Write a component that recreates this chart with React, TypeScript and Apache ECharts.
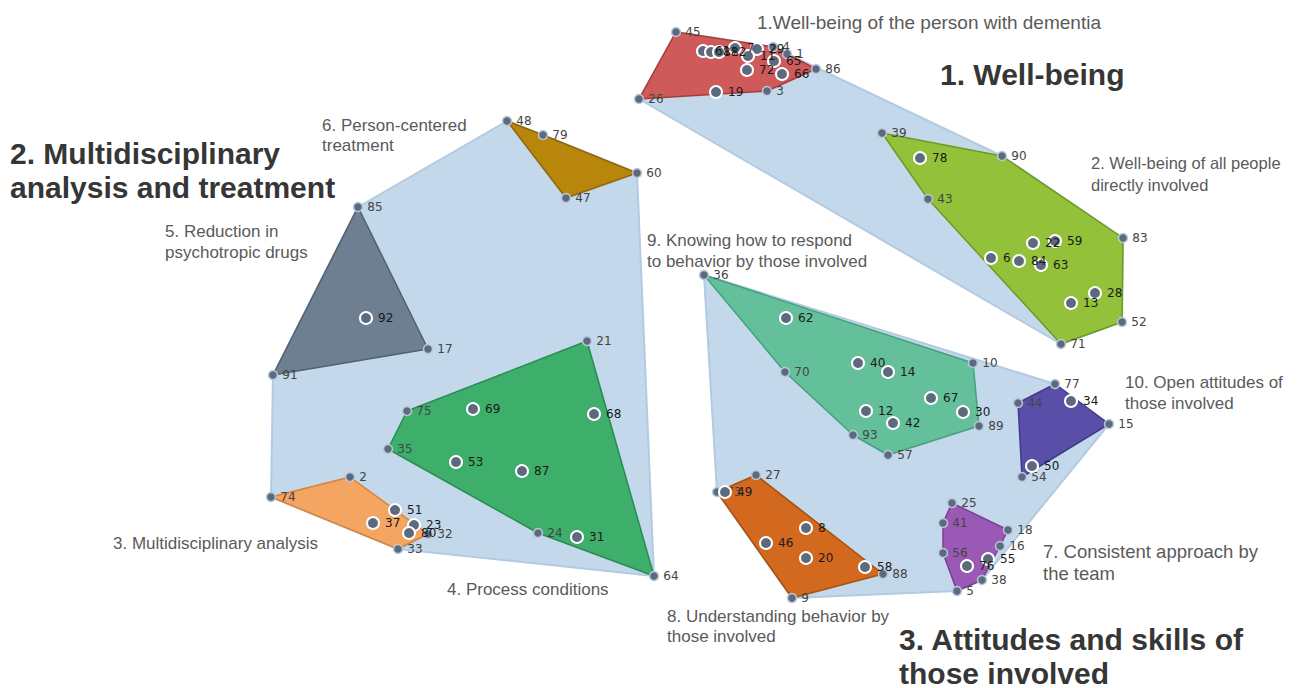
import React, { useEffect, useRef } from "react";
import * as echarts from "echarts";

// Each point: [label, x, y] (map coordinates)
const cluster1 = [
  ["45", 676, 32], ["26", 639, 99], ["19", 716, 92], ["3", 767, 91], ["86", 816, 69],
  ["66", 782, 74], ["72", 747, 70], ["65", 774, 61], ["1", 787, 54], ["4", 773, 47],
  ["29", 757, 49], ["7", 735, 48], ["11", 748, 56], ["61", 703, 51], ["81", 711, 52], ["82", 719, 52],
];
const cluster2 = [
  ["39", 882, 133], ["78", 920, 158], ["90", 1002, 156], ["43", 928, 199], ["83", 1123, 238],
  ["22", 1033, 243], ["59", 1055, 241], ["6", 991, 258], ["84", 1019, 261], ["63", 1041, 265],
  ["28", 1095, 293], ["13", 1071, 303], ["52", 1122, 322], ["71", 1061, 344],
];
const cluster3 = [
  ["2", 350, 477], ["74", 271, 497], ["51", 395, 510], ["37", 373, 523], ["23", 414, 525],
  ["80", 409, 533], ["32", 428, 534], ["33", 398, 549],
];
const cluster4 = [
  ["21", 587, 341], ["75", 407, 411], ["69", 473, 409], ["68", 594, 414], ["35", 388, 449],
  ["53", 456, 462], ["87", 522, 471], ["24", 538, 533], ["31", 577, 537], ["64", 654, 576],
];
const cluster5 = [["85", 358, 207], ["92", 366, 318], ["17", 428, 349], ["91", 273, 375]];
const cluster6 = [["48", 507, 121], ["79", 543, 135], ["60", 637, 173], ["47", 566, 198]];
const cluster7 = [
  ["25", 952, 503], ["41", 943, 523], ["18", 1008, 530], ["16", 1000, 546], ["56", 943, 553],
  ["55", 988, 559], ["76", 967, 566], ["38", 982, 580], ["5", 957, 591],
];
const cluster8 = [
  ["27", 756, 475], ["73", 717, 492], ["49", 725, 492], ["8", 806, 528], ["46", 766, 543],
  ["20", 806, 558], ["58", 865, 567], ["88", 883, 574], ["9", 792, 598],
];
const cluster9 = [
  ["36", 704, 275], ["62", 786, 318], ["70", 785, 372], ["40", 858, 363], ["14", 888, 372],
  ["10", 973, 363], ["67", 931, 398], ["30", 963, 412], ["89", 979, 426], ["12", 866, 411],
  ["42", 893, 423], ["93", 853, 435], ["57", 888, 455],
];
const cluster10 = [
  ["77", 1055, 384], ["44", 1018, 403], ["34", 1071, 401], ["15", 1109, 424], ["50", 1032, 466], ["54", 1022, 477],
];

const clusters = [cluster1, cluster2, cluster3, cluster4, cluster5, cluster6, cluster7, cluster8, cluster9, cluster10];
const groups = [[0, 1], [2, 3, 4, 5], [6, 7, 8, 9]];

// styles (kept apart from data)
const clusterFill = ["#cf5a5a", "#93c23a", "#f4a562", "#3daf6a", "#6e7f92", "#b8860b", "#9b59b6", "#d2691e", "#64c09b", "#5a4fa8"];
const clusterStroke = ["#a83c3c", "#6f9a22", "#d8823a", "#2a8c50", "#52616f", "#8f6808", "#7a3e94", "#a8500f", "#45a07c", "#42388a"];

type P = [number, number];
function hull(pts: P[]): P[] {
  const s = pts.slice().sort((a, b) => a[0] - b[0] || a[1] - b[1]);
  const cross = (o: P, a: P, b: P) => (a[0] - o[0]) * (b[1] - o[1]) - (a[1] - o[1]) * (b[0] - o[0]);
  const lower: P[] = [];
  for (const p of s) {
    while (lower.length >= 2 && cross(lower[lower.length - 2], lower[lower.length - 1], p) <= 0) lower.pop();
    lower.push(p);
  }
  const upper: P[] = [];
  for (let i = s.length - 1; i >= 0; i--) {
    const p = s[i];
    while (upper.length >= 2 && cross(upper[upper.length - 2], upper[upper.length - 1], p) <= 0) upper.pop();
    upper.push(p);
  }
  upper.pop();
  lower.pop();
  return lower.concat(upper);
}

const txt = (text: string, x: number, y: number, size = 17, lh = 21) => ({
  type: "text",
  x,
  y,
  z: 100,
  style: {
    text,
    fill: "#5a5a5a",
    font: `${size}px 'Liberation Sans', Arial, sans-serif`,
    lineHeight: lh,
    verticalAlign: "top",
    align: "left",
  },
});
const bigTxt = (text: string, x: number, y: number) => ({
  type: "text",
  x,
  y,
  z: 100,
  style: {
    text,
    fill: "#363636",
    font: "bold 30px 'Liberation Sans', Arial, sans-serif",
    lineHeight: 34,
    verticalAlign: "top",
    align: "left",
  },
});

export default function App() {
  const ref = useRef<HTMLDivElement>(null);
  useEffect(() => {
    document.body.style.margin = "0";
    const chart = echarts.init(ref.current!, null, { renderer: "svg" });

    const clusterHulls = clusters.map((c) => hull(c.map((p) => [p[1] as number, p[2] as number] as P)));
    const groupHulls = groups.map((g) => hull(g.flatMap((ci) => clusters[ci].map((p) => [p[1] as number, p[2] as number] as P))));

    const hullKeys = new Set<string>();
    clusterHulls.forEach((h) => h.forEach((p) => hullKeys.add(p[0] + "," + p[1])));

    const edgePts: any[] = [];
    const innerPts: any[] = [];
    clusters.forEach((c) =>
      c.forEach((p) => {
        const item = { name: p[0], value: [p[1], p[2]] };
        if (hullKeys.has(p[1] + "," + p[2])) edgePts.push(item);
        else innerPts.push(item);
      })
    );

    const polySeries = (hs: P[][], fills: string[], strokes: string[], z: number, lw: number) => ({
      type: "custom",
      coordinateSystem: "cartesian2d",
      clip: false,
      z,
      silent: true,
      data: hs.map((_, i) => [i]),
      renderItem: (params: any, api: any) => {
        const h = hs[params.dataIndex];
        return {
          type: "polygon",
          shape: { points: h.map((p) => api.coord(p)) },
          style: { fill: fills[params.dataIndex], stroke: strokes[params.dataIndex], lineWidth: lw, lineJoin: "round" },
        };
      },
    });

    chart.setOption({
      animation: false,
      grid: { left: 0, right: 0, top: 0, bottom: 0 },
      xAxis: { type: "value", min: 0, max: 1298, show: false },
      yAxis: { type: "value", min: 0, max: 688, inverse: true, show: false },
      series: [
        polySeries(groupHulls, ["#c3d8eb", "#c3d8eb", "#c3d8eb"], ["#b3cbe2", "#b3cbe2", "#b3cbe2"], 1, 2),
        polySeries(clusterHulls, clusterFill, clusterStroke, 2, 1.5),
        {
          type: "scatter",
          z: 3,
          symbolSize: 9,
          data: edgePts,
          itemStyle: { color: "#5d6a7e", borderColor: "#b9c9dc", borderWidth: 1.5, opacity: 1 },
          label: {
            show: true,
            position: "right",
            distance: 4,
            formatter: "{b}",
            color: "#444444",
            fontSize: 12,
            fontFamily: "'DejaVu Sans', sans-serif",
          },
        },
        {
          type: "scatter",
          z: 4,
          symbolSize: 12,
          data: innerPts,
          itemStyle: { color: "#5d6a7e", borderColor: "#ffffff", borderWidth: 2, opacity: 1 },
          label: {
            show: true,
            position: "right",
            distance: 5,
            formatter: "{b}",
            color: "#1a1a1a",
            fontSize: 12,
            fontFamily: "'DejaVu Sans', sans-serif",
          },
        },
      ],
      graphic: [
        txt("1.Well-being of the person with dementia", 757, 11, 19, 22),
        bigTxt("1. Well-being", 940, 57),
        txt("2. Well-being of all people\ndirectly involved", 1091, 152, 16.5, 22),
        bigTxt("2. Multidisciplinary\nanalysis and treatment", 10, 136),
        txt("6. Person-centered\ntreatment", 322, 115, 17, 20),
        txt("5. Reduction in\npsychotropic drugs", 165, 221),
        txt("9. Knowing how to respond\nto behavior by those involved", 647, 230),
        txt("10. Open attitudes of\nthose involved", 1125, 372),
        txt("3. Multidisciplinary analysis", 113, 533),
        txt("4. Process conditions", 447, 579),
        txt("7. Consistent approach by\nthe team", 1043, 540, 18.5, 22),
        txt("8. Understanding behavior by\nthose involved", 667, 606, 17, 20),
        bigTxt("3. Attitudes and skills of\nthose involved", 899, 622),
      ],
    });
    return () => chart.dispose();
  }, []);
  return <div ref={ref} style={{ width: 1298, height: 688 }} />;
}
